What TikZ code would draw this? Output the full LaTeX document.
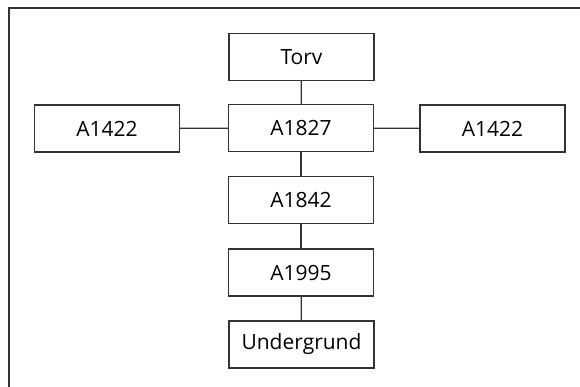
\documentclass[tikz,border=0pt]{standalone}
\usepackage{fontspec}
\setmainfont{Open Sans}
\begin{document}
\begin{tikzpicture}[x=1pt,y=-1pt,
  box/.style={draw=black!80, line width=1.2pt, minimum width=145pt, minimum height=47pt, inner sep=0pt, font=\fontsize{21}{25}\selectfont},
  link/.style={draw=black!80, line width=1.2pt}]
\useasboundingbox (0,0) rectangle (580,387);
\draw[link] (9,387) coordinate (fb) -- (9,8) coordinate (ftl) -- (580,8) coordinate (ftr);
\node[box] (torv) at (301.5,57) {Torv};
\node[box] (a1827) at (301,128) {A1827};
\node[box] (l1422) at (107,128.5) {A1422};
\node[box] (r1422) at (492.5,128.5) {A1422};
\node[box] (a1842) at (301,200) {A1842};
\node[box] (a1995) at (301,272.5) {A1995};
\node[box] (under) at (301.5,344.5) {Undergrund};
\draw[link] (torv) -- (a1827);
\draw[link] (a1827) -- (a1842);
\draw[link] (a1842) -- (a1995);
\draw[link] (a1995) -- (under);
\draw[link] (l1422) -- (a1827);
\draw[link] (a1827) -- (r1422);
\end{tikzpicture}
\end{document}
